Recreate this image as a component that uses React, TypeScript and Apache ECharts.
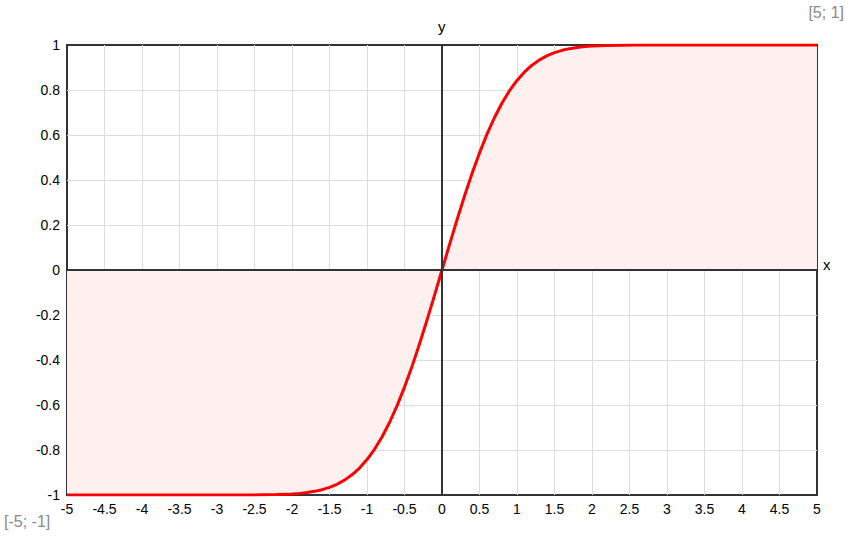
import React, { useEffect, useRef } from "react";
import * as echarts from "echarts";

const xValues = [
  -5, -4.5, -4, -3.5, -3, -2.6, -2.4, -2.2, -2, -1.9, -1.8, -1.7, -1.6, -1.5, -1.4, -1.3, -1.2, -1.1, -1, -0.9,
  -0.8, -0.7, -0.6, -0.5, -0.4, -0.3, -0.2, -0.1, 0, 0.1, 0.2, 0.3, 0.4, 0.5, 0.6, 0.7, 0.8, 0.9, 1, 1.1, 1.2,
  1.3, 1.4, 1.5, 1.6, 1.7, 1.8, 1.9, 2, 2.2, 2.4, 2.6, 3, 3.5, 4, 4.5, 5,
];
const yValues = [
  -1, -1, -1, -1, -1, -0.9998, -0.9993, -0.9981, -0.9953, -0.9928, -0.9891, -0.9838, -0.9763, -0.9661, -0.9523,
  -0.934, -0.9103, -0.8802, -0.8427, -0.7969, -0.7421, -0.6778, -0.6039, -0.5205, -0.4284, -0.3286, -0.2227,
  -0.1125, 0, 0.1125, 0.2227, 0.3286, 0.4284, 0.5205, 0.6039, 0.6778, 0.7421, 0.7969, 0.8427, 0.8802, 0.9103,
  0.934, 0.9523, 0.9661, 0.9763, 0.9838, 0.9891, 0.9928, 0.9953, 0.9981, 0.9993, 0.9998, 1, 1, 1, 1, 1,
];
const xRange = [-5, 5];
const yRange = [-1, 1];
const cornerLabels = ["[5; 1]", "[-5; -1]"];
const axisNames = ["x", "y"];

const FONT = "Liberation Sans, Arial, sans-serif";

export default function App() {
  const ref = useRef<HTMLDivElement>(null);
  useEffect(() => {
    document.body.style.margin = "0";
    const chart = echarts.init(ref.current!, null, { renderer: "svg" });
    const data = xValues.map((x, i) => [x, yValues[i]]);
    chart.setOption({
      animation: false,
      backgroundColor: "#fff",
      grid: {
        left: 67,
        right: 33,
        top: 45,
        bottom: 45,
        show: true,
        borderColor: "#333",
        borderWidth: 2,
        backgroundColor: "transparent",
      },
      xAxis: {
        type: "value",
        min: xRange[0],
        max: xRange[1],
        interval: 0.5,
        axisLine: { show: false },
        axisTick: { show: false },
        splitLine: { show: true, showMinLine: false, showMaxLine: false, lineStyle: { color: "#dcdcdc", width: 1 } },
        axisLabel: { color: "#000", fontSize: 14, fontFamily: FONT, margin: 7 },
      },
      yAxis: {
        type: "value",
        min: yRange[0],
        max: yRange[1],
        interval: 0.2,
        axisLine: { show: false },
        axisTick: { show: false },
        splitLine: { show: true, showMinLine: false, showMaxLine: false, lineStyle: { color: "#dcdcdc", width: 1 } },
        axisLabel: {
          color: "#000",
          fontSize: 14,
          fontFamily: FONT,
          margin: 7,
          formatter: (v: number) => String(Math.round(v * 10) / 10),
        },
      },
      series: [
        {
          type: "line",
          data,
          showSymbol: false,
          lineStyle: { width: 0, opacity: 0 },
          areaStyle: { color: "#fff0f0", opacity: 1, origin: 0 },
          z: 1,
          silent: true,
        },
        {
          type: "line",
          data: [],
          z: 2,
          silent: true,
          markLine: {
            silent: true,
            symbol: "none",
            label: { show: false },
            lineStyle: { color: "#333", width: 2, type: "solid" },
            data: [{ xAxis: 0 }, { yAxis: 0 }],
          },
        },
        {
          type: "line",
          data,
          showSymbol: false,
          lineStyle: { color: "#ff0000", width: 3, join: "round" },
          z: 3,
        },
      ],
      graphic: [
        {
          type: "text",
          left: 438,
          top: 19,
          style: { text: axisNames[1], fontSize: 15, fontFamily: FONT, fill: "#000" },
        },
        {
          type: "text",
          left: 823,
          top: 257,
          style: { text: axisNames[0], fontSize: 15, fontFamily: FONT, fill: "#000" },
        },
        {
          type: "text",
          right: 6,
          top: 4,
          style: { text: cornerLabels[0], fontSize: 16, fontFamily: FONT, fill: "#8a8a8a" },
        },
        {
          type: "text",
          left: 4,
          top: 513,
          style: { text: cornerLabels[1], fontSize: 16, fontFamily: FONT, fill: "#8a8a8a" },
        },
      ],
    });
    return () => chart.dispose();
  }, []);
  return <div ref={ref} style={{ width: 850, height: 540 }} />;
}
